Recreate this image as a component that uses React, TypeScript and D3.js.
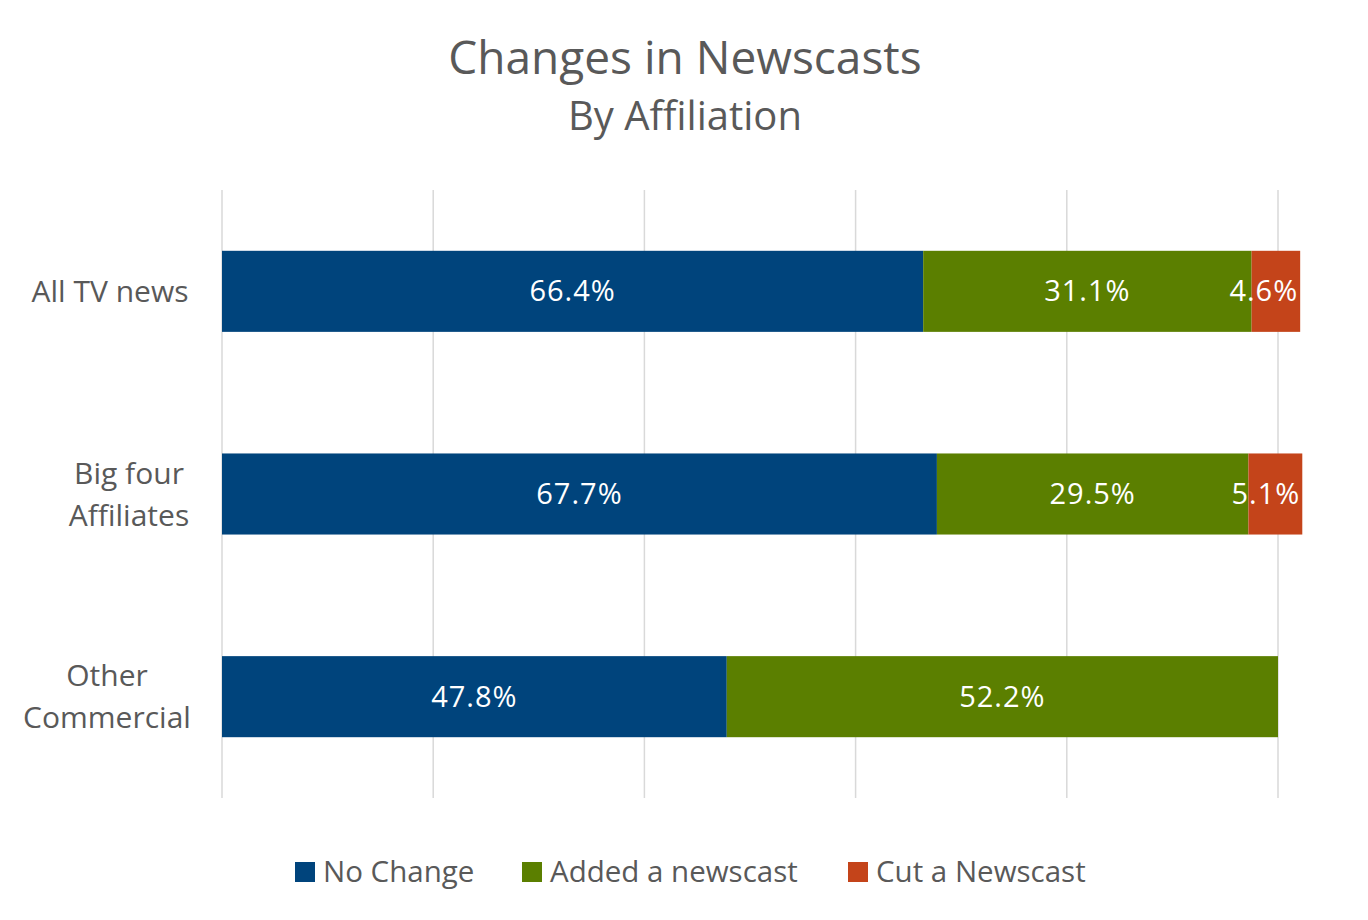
import React from "react";
import * as d3 from "d3";

const categories = ["All TV news", "Big four Affiliates", "Other Commercial"];
const categoryLines = [["All TV news"], ["Big four", "Affiliates"], ["Other", "Commercial"]];
const seriesNames = ["No Change", "Added a newscast", "Cut a Newscast"];
const noChange = [66.4, 67.7, 47.8];
const added = [31.1, 29.5, 52.2];
const cut = [4.6, 5.1, 0];
const xTicks = [0, 20, 40, 60, 80, 100];
const colors = ["#00447C", "#5B7F00", "#C4441A"];

const W = 1368;
const H = 920;
const FONT = "'Open Sans', 'Noto Sans', sans-serif";
const TEXT = "#595959";

export default function App() {
  const x = d3.scaleLinear().domain([0, 100]).range([222, 1278]);
  const y = d3.scaleBand<string>().domain(categories).range([190, 798]).paddingInner(0.6).paddingOuter(0.3);
  const series = [noChange, added, cut];
  const stackData = categories.map((c, i) => ({ cat: c, s0: noChange[i], s1: added[i], s2: cut[i] }));
  const stack = d3.stack<any>().keys(["s0", "s1", "s2"])(stackData);

  const legendItems = [
    { x: 295, label: seriesNames[0] },
    { x: 522, label: seriesNames[1] },
    { x: 848, label: seriesNames[2] },
  ];

  return (
    <svg width={W} height={H} style={{ position: "absolute", left: 0, top: 0, background: "#fff" }} fontFamily={FONT}>
      <rect width={W} height={H} fill="#fff" />
      <text x={685} y={74} textAnchor="middle" fontSize={46} fill={TEXT}>Changes in Newscasts</text>
      <text x={685} y={130} textAnchor="middle" fontSize={40} fill={TEXT}>By Affiliation</text>
      {xTicks.map((t) => (
        <line key={t} x1={x(t)} x2={x(t)} y1={190} y2={798} stroke="#D9D9D9" strokeWidth={1.5} />
      ))}
      {stack.map((layer, si) => (
        <g key={si}>
          {layer.map((d, ci) => {
            const v = series[si][ci];
            if (!v) return null;
            const x0 = x(d[0]);
            const x1 = x(d[1]);
            const yy = y(categories[ci])!;
            const narrow = x1 - x0 < 80;
            return (
              <g key={ci}>
                <rect x={x0} y={yy} width={x1 - x0} height={y.bandwidth()} fill={colors[si]} />
                <text
                  x={narrow ? x1 - 2 : (x0 + x1) / 2}
                  y={yy + y.bandwidth() / 2}
                  dy="0.35em"
                  textAnchor={narrow ? "end" : "middle"}
                  fontSize={29}
                  letterSpacing={1}
                  fill="#fff"
                >
                  {v.toFixed(1)}%
                </text>
              </g>
            );
          })}
        </g>
      ))}
      {categories.map((c, i) => {
        const lines = categoryLines[i];
        const cy = y(c)! + y.bandwidth() / 2;
        const lh = 42;
        return (
          <text key={c} textAnchor="middle" fontSize={30} fill={TEXT}>
            {lines.map((l, li) => (
              <tspan key={li} x={i === 0 ? 110 : i === 1 ? 129 : 107} y={cy + (li - (lines.length - 1) / 2) * lh} dy="0.35em">{l}</tspan>
            ))}
          </text>
        );
      })}
      {legendItems.map((it, i) => (
        <g key={i}>
          <rect x={it.x} y={862} width={20} height={20} fill={colors[i]} />
          <text x={it.x + 28} y={872} dy="0.35em" fontSize={29.5} fill={TEXT}>{it.label}</text>
        </g>
      ))}
    </svg>
  );
}
